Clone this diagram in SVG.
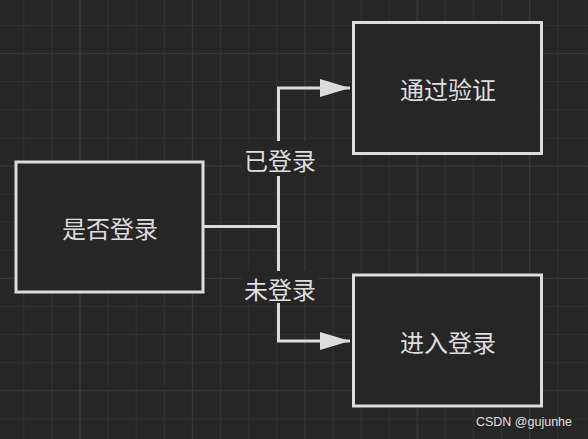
<svg xmlns="http://www.w3.org/2000/svg" width="588" height="439" viewBox="0 0 588 439">
<style>
.box{fill:#262626;stroke:#dcdcdc;stroke-width:3}
.t{font-family:"Noto Sans CJK SC","Noto Sans",sans-serif;font-size:24px;fill:#dedede;text-anchor:middle;dominant-baseline:central}
.c{fill:none;stroke:#dcdcdc;stroke-width:3}
.lbg{fill:#262626}
</style>
<defs>
<pattern id="minor" patternUnits="userSpaceOnUse" x="-4.8" y="-3.1" width="28.1" height="28.1">
<path d="M0 0H28.1M0 0V28.1" stroke="#313131" stroke-width="2" fill="none"/>
</pattern>
<pattern id="major" patternUnits="userSpaceOnUse" x="79.5" y="53.1" width="112.4" height="112.4">
<path d="M0 0H112.4M0 0V112.4" stroke="#393939" stroke-width="2" fill="none"/>
</pattern>
<marker id="arr" markerUnits="userSpaceOnUse" markerWidth="32" markerHeight="20" refX="30" refY="9" orient="auto">
<path d="M0 0L30 9L0 18z" fill="#dcdcdc"/>
</marker>
</defs>
<rect width="588" height="439" fill="#262626"/>
<rect width="588" height="439" fill="url(#minor)"/>
<rect width="588" height="439" fill="url(#major)"/>
<g id="connectors">
<path class="c" d="M203 226.5H278.5"/>
<path class="c" d="M278.5 226.5V88H350" marker-end="url(#arr)"/>
<path class="c" d="M278.5 226.5V341H350" marker-end="url(#arr)"/>
<rect class="lbg" x="242" y="141" width="76" height="35"/>
<text class="t" x="280" y="159.5">已登录</text>
<rect class="lbg" x="242" y="271" width="76" height="32"/>
<text class="t" x="280" y="288">未登录</text>
</g>
<g id="node-check">
<rect class="box" x="16" y="162" width="187" height="130"/>
<text class="t" x="110" y="227">是否登录</text>
</g>
<g id="node-pass">
<rect class="box" x="353.5" y="22.5" width="188" height="131"/>
<text class="t" x="448" y="88">通过验证</text>
</g>
<g id="node-login">
<rect class="box" x="353.5" y="275" width="188" height="131"/>
<text class="t" x="448" y="341">进入登录</text>
</g>
<text x="572" y="426" font-family="Liberation Sans, Arial, sans-serif" font-size="12.5" fill="#e0e0e0" text-anchor="end">CSDN @gujunhe</text>
</svg>
